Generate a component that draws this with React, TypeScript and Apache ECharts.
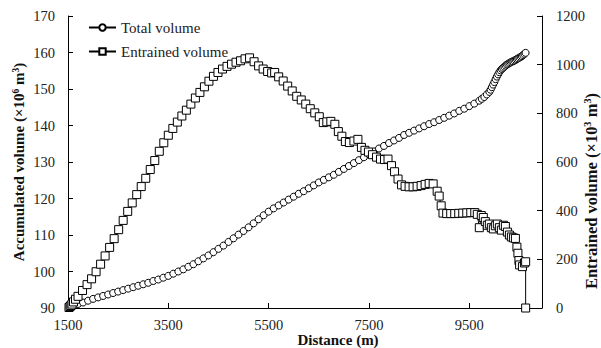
import React, { useEffect, useRef } from "react";
import * as echarts from "echarts";

const F = "Liberation Serif";

const xTicks = [1500, 3500, 5500, 7500, 9500];

const totalDistance = [
  1520, 1540, 1560, 1580, 1600,
  1700, 1800, 1900, 2000, 2100, 2200, 2300, 2400, 2500, 2600,
  2700, 2800, 2900, 3000, 3100, 3200, 3300, 3400, 3500, 3600,
  3700, 3800, 3900, 4000, 4100, 4200, 4300, 4400, 4500, 4600,
  4700, 4800, 4900, 5000, 5100, 5200, 5300, 5400, 5500, 5600,
  5700, 5800, 5900, 6000, 6100, 6200, 6300, 6400, 6500, 6600,
  6700, 6800, 6900, 7000, 7100, 7200, 7300, 7400, 7500, 7600,
  7700, 7800, 7900, 8000, 8100, 8200, 8300, 8400, 8500, 8600,
  8700, 8800, 8900, 9000, 9100, 9200, 9300, 9400, 9500, 9600,
  9700,
  9750, 9800, 9850, 9900,
  9925, 9950, 9975, 10000, 10025, 10050, 10075, 10100, 10125, 10150,
  10175, 10200, 10225, 10250, 10275, 10300, 10325, 10350, 10375, 10400,
  10425, 10450, 10475, 10500, 10525, 10550, 10575, 10600,
  10623,
];

const totalVolume = [
  90.3, 90.4, 90.5, 90.6, 90.7,
  91.1, 91.5, 92.0, 92.5, 92.9, 93.3, 93.7, 94.1, 94.5, 94.9,
  95.3, 95.7, 96.1, 96.5, 96.9, 97.4, 97.8, 98.3, 98.8, 99.4,
  100.0, 100.6, 101.3, 102.0, 102.8, 103.6, 104.4, 105.3, 106.2, 107.1,
  108.1, 109.1, 110.1, 111.1, 112.1, 113.2, 114.3, 115.4, 116.4, 117.3,
  118.1, 118.9, 119.7, 120.5, 121.3, 122.0, 122.8, 123.6, 124.4, 125.1,
  125.8, 126.5, 127.3, 128.1, 128.9, 129.7, 130.5, 131.3, 132.1, 132.9,
  133.7, 134.4, 135.2, 135.9, 136.6, 137.4, 138.0, 138.6, 139.2, 139.8,
  140.4, 140.9, 141.5, 142.1, 142.7, 143.3, 144.0, 144.6, 145.3, 146.0,
  146.8,
  147.3, 147.8, 148.5, 149.2,
  149.8, 150.5, 151.2, 151.9, 152.7, 153.4, 154.0, 154.6, 155.1, 155.5,
  155.8, 156.1, 156.4, 156.7, 156.9, 157.1, 157.3, 157.5, 157.6, 157.8,
  158.0, 158.2, 158.4, 158.6, 158.8, 159.0, 159.3, 159.6,
  159.9,
];

const entrainedDistance = [
  1520, 1540, 1560, 1580, 1610, 1650, 1700,
  1790, 1880, 1970, 2060, 2150, 2240, 2330, 2420, 2510, 2600,
  2690, 2780, 2870, 2960, 3050, 3140, 3230, 3320, 3410, 3500,
  3590, 3680, 3770, 3860, 3950, 4040, 4130, 4220, 4310, 4400,
  4490, 4580, 4670, 4760, 4850, 4940, 5030, 5120,
  5210, 5300, 5390, 5480, 5560, 5620, 5700, 5790, 5880, 5970,
  6060, 6150, 6240, 6330, 6420, 6510, 6590, 6660, 6740, 6820,
  6890, 6960, 7030, 7110, 7200, 7280, 7350, 7420, 7490, 7570,
  7650, 7730, 7810, 7880, 7950, 8010, 8080, 8150, 8220, 8300,
  8380, 8460, 8540, 8620, 8700, 8780, 8860, 8900, 8940, 8976,
  9050, 9130, 9210, 9290, 9370, 9450, 9530, 9610, 9660, 9700,
  9740, 9780, 9820, 9860, 9900, 9940, 9980, 10020, 10060, 10100,
  10140, 10180, 10220, 10260, 10300, 10340, 10380, 10420, 10450, 10470,
  10490, 10504, 10560, 10600, 10624, 10624,
];

const entrainedVolume = [
  2, 6, 10, 16, 25, 36, 48,
  72, 96, 120, 149, 180, 214, 249, 285, 322, 360,
  397, 432, 466, 499, 533, 569, 606, 644, 679, 710,
  738, 764, 789, 813, 838, 863, 886, 909, 932, 952,
  968, 982, 993, 1002, 1010, 1016, 1024, 1028,
  1012, 995, 982, 972, 966, 968, 950, 933, 912, 892,
  870, 855, 838, 819, 802, 786, 762, 765, 767, 755,
  725, 706, 684, 680, 686, 693, 660, 648, 641, 630,
  620, 612, 610, 612, 585, 560, 530, 506, 500, 498,
  498, 500, 503, 508, 512, 510, 480, 460, 420, 390,
  388, 388, 388, 389, 390, 391, 392, 392, 385, 330,
  380, 372, 355, 340, 345, 330, 325, 338, 345, 330,
  320, 340, 335, 312, 300, 292, 288, 286, 250, 225,
  195, 177, 170, 185, 190, 0,
];

const zip = (xs: number[], ys: number[]) => xs.map((x, i) => [x, ys[i]]);

export default function App() {
  const ref = useRef<HTMLDivElement>(null);
  useEffect(() => {
    if (!ref.current) return;
    const chart = echarts.init(ref.current, undefined, { renderer: "svg" });
    const labelStyle = { color: "#222", fontFamily: F, fontSize: 14.5 };
    const richFor = (size: number) => ({
      b: { fontSize: size, fontWeight: "bold", fontFamily: F, fill: "#111" },
      s: { fontSize: size * 0.63, fontWeight: "bold", fontFamily: F, fill: "#111", verticalAlign: "top" },
    });
    chart.setOption({
      animation: false,
      backgroundColor: "#fff",
      grid: { left: 68, right: 59, top: 16, bottom: 40 },
      legend: {
        orient: "vertical",
        left: 88,
        top: 20,
        padding: 0,
        itemWidth: 27,
        itemHeight: 8,
        itemGap: 9,
        selectedMode: false,
        textStyle: { fontFamily: F, fontSize: 15, color: "#222" },
        data: ["Total volume", "Entrained volume"],
      },
      xAxis: {
        type: "value",
        min: 1500,
        max: 10950,
        interval: 2000,
        axisLine: { lineStyle: { color: "#000", width: 1 } },
        axisTick: { inside: true, length: 5, lineStyle: { color: "#000" } },
        axisLabel: {
          ...labelStyle,
          margin: 9,
          showMaxLabel: false,
          formatter: (v: number) => (xTicks.includes(v) ? String(v) : ""),
        },
        splitLine: { show: false },
      },
      yAxis: [
        {
          type: "value",
          min: 90,
          max: 170,
          interval: 10,
          position: "left",
          axisLine: { show: true, lineStyle: { color: "#000", width: 1 } },
          axisTick: { show: true, inside: true, length: 5, lineStyle: { color: "#000" } },
          axisLabel: { ...labelStyle, margin: 13, formatter: (v: number) => String(v) },
          splitLine: { show: false },
        },
        {
          type: "value",
          min: 0,
          max: 1200,
          interval: 200,
          position: "right",
          axisLine: { show: true, lineStyle: { color: "#000", width: 1 } },
          axisTick: { show: true, inside: true, length: 5, lineStyle: { color: "#000" } },
          axisLabel: { ...labelStyle, margin: 14, formatter: (v: number) => String(v) },
          splitLine: { show: false },
        },
      ],
      graphic: [
        {
          type: "text",
          x: 19,
          y: 162,
          rotation: Math.PI / 2,
          style: {
            text: "{b|Accumulated volume (×10}{s|6}{b| m}{s|3}{b|)}",
            rich: richFor(15),
            fontSize: 15,
            fontFamily: F,
            align: "center",
            verticalAlign: "middle",
          },
        },
        {
          type: "text",
          x: 591,
          y: 191,
          rotation: Math.PI / 2,
          style: {
            text: "{b|Entrained volume (×10}{s|3}{b| m}{s|3}{b|)}",
            rich: richFor(16.5),
            fontSize: 16.5,
            fontFamily: F,
            align: "center",
            verticalAlign: "middle",
          },
        },
        {
          type: "text",
          x: 338,
          y: 340,
          style: {
            text: "Distance (m)",
            fontSize: 15,
            fontWeight: "bold",
            fontFamily: F,
            fill: "#111",
            align: "center",
            verticalAlign: "middle",
          },
        },
      ],
      series: [
        {
          name: "Total volume",
          type: "line",
          yAxisIndex: 0,
          data: zip(totalDistance, totalVolume),
          symbol: "circle",
          symbolSize: 7,
          showSymbol: true,
          silent: true,
          lineStyle: { color: "#000", width: 1 },
          itemStyle: { color: "#fff", borderColor: "#000", borderWidth: 1 },
          emphasis: { disabled: true },
        },
        {
          name: "Entrained volume",
          type: "line",
          yAxisIndex: 1,
          data: zip(entrainedDistance, entrainedVolume),
          symbol: "rect",
          symbolSize: 8,
          showSymbol: true,
          silent: true,
          lineStyle: { color: "#000", width: 1 },
          itemStyle: { color: "#fff", borderColor: "#000", borderWidth: 1 },
          emphasis: { disabled: true },
        },
      ],
    });
    return () => chart.dispose();
  }, []);
  return <div ref={ref} style={{ width: 601, height: 348, position: "absolute", left: 0, top: 0 }} />;
}
